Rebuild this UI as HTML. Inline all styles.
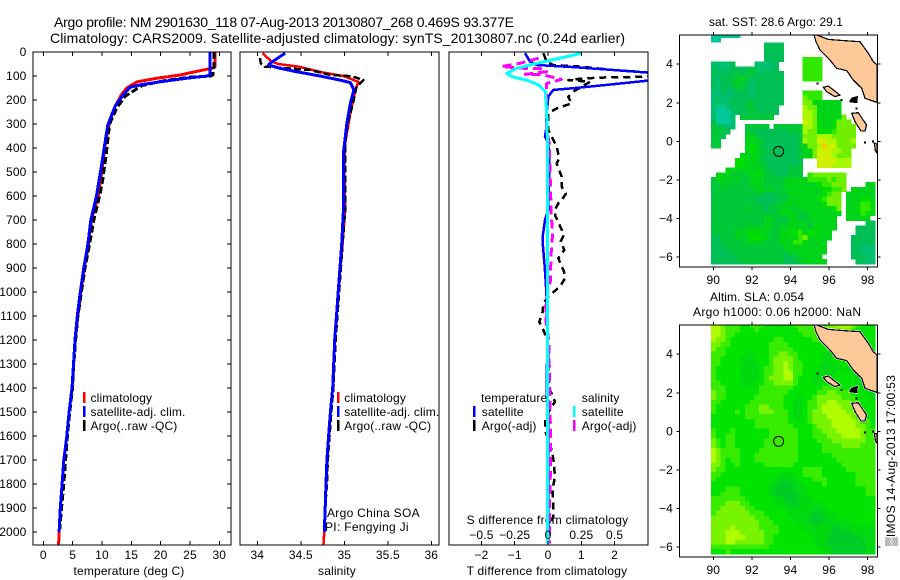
<!DOCTYPE html>
<html>
<head>
<meta charset="utf-8">
<title>Argo profile 2901630</title>
<style>
html,body{margin:0;padding:0;background:#fff;}
svg{display:block;}
text{font-family:"Liberation Sans",sans-serif;font-size:12px;fill:#000;letter-spacing:0.15px;}
</style>
</head>
<body>
<svg id="chart" xmlns="http://www.w3.org/2000/svg" width="900" height="580" viewBox="0 0 900 580">
<defs>
<clipPath id="clip-temp"><rect x="33" y="52" width="198" height="493"/></clipPath>
<clipPath id="clip-sal"><rect x="240" y="52" width="199" height="493"/></clipPath>
<clipPath id="clip-diff"><rect x="449" y="52" width="199" height="493"/></clipPath>
<clipPath id="clip-map1"><rect x="679.5" y="35" width="198" height="232"/></clipPath>
<clipPath id="clip-map2"><rect x="679.5" y="325" width="198" height="232"/></clipPath>
</defs>
<text x="54" y="27" style="font-size:14px;letter-spacing:0" textLength="460">Argo profile: NM 2901630_118 07-Aug-2013 20130807_268 0.469S 93.377E</text>
<text x="50" y="43" style="font-size:14px;letter-spacing:0" textLength="575">Climatology: CARS2009. Satellite-adjusted climatology: synTS_20130807.nc (0.24d earlier)</text>
<text x="129" y="575" text-anchor="middle">temperature (deg C)</text>
<text x="337" y="575" text-anchor="middle">salinity</text>
<text x="547" y="575" style="letter-spacing:0.25px" text-anchor="middle">T difference from climatology</text>
<text x="547.5" y="524" style="letter-spacing:0.25px" text-anchor="middle">S difference from climatology</text>
<text x="776" y="26" style="letter-spacing:0.05px" text-anchor="middle">sat. SST: 28.6 Argo: 29.1</text>
<text x="710" y="301" style="letter-spacing:0" textLength="94">Altim. SLA: 0.054</text>
<text x="693" y="316" style="letter-spacing:0" textLength="168">Argo h1000: 0.06 h2000: NaN</text>
<text transform="translate(895,546) rotate(-90)" style="letter-spacing:0" textLength="171">▒IMOS 14-Aug-2013 17:00:53</text>
<text x="327" y="517" style="letter-spacing:0.3px">Argo China SOA</text>
<text x="325" y="531" style="letter-spacing:0.3px">PI: Fengying Ji</text>
</svg>
<script>
// ---------- profile data ----------
const tempClimDepth = [0,60,68,78,96,109,124,150,179,228,304,380,492,608,700,800,900,1000,1100,1200,1300,1400,1500,1600,1700,1800,1900,2000,2054];
const tempClimValues = [29.3,29.3,28.7,26.7,23.3,19.4,16,14.2,13.3,12.2,11.2,10.6,10,9.3,8.2,7.7,7,6.4,5.9,5.4,5.15,4.9,4.4,4,3.5,3.2,2.9,2.7,2.6];
const tempSatDepth = [0,95,100,109,124,137,147,179,228,304,380,492,608,700,800,900,1000,1100,1200,1300,1400,1500,1600,1700,1800,1900,2000];
const tempSatValues = [28.4,28.4,28,24.5,19.9,16.5,14.8,13.6,12.2,11,10.5,9.8,9,8.1,7.6,6.9,6.3,5.8,5.4,5.15,4.9,4.4,4,3.5,3.2,2.9,2.7];
const tempArgoDepth = [0,60,95,100,105,120,140,185,235,300,430,535,590,700,800,900,1000,1100,1200,1300,1400,1500,1600,1700,1800,1900,1990];
const tempArgoValues = [29.1,29.1,28.9,28.5,25,20.5,16.8,13.9,12.5,11.3,10.7,10.1,9.7,8.6,7.9,7.1,6.5,5.9,5.5,5.2,5.0,4.5,4.1,3.8,3.5,3.1,2.8];

const salClimDepth = [5,40,50,61,86,100,124,171,254,379,492,658,800,1000,1200,1400,1500,1600,1700,1800,1900,2000,2054];
const salClimValues = [34.06,34.165,34.24,34.47,34.76,34.99,35.16,35.12,35.07,35.01,35,35.01,34.98,34.93,34.89,34.867,34.84,34.82,34.8,34.79,34.78,34.77,34.76];
const salSatDepth = [5,47,54,68,82,100,117,128,158,213,296,421,658,800,1000,1200,1400,1500,1600,1700,1800,1900,2000];
const salSatValues = [34.32,34.146,34.13,34.26,34.45,34.72,34.95,35.07,35.11,35.07,35.03,34.99,34.99,34.97,34.93,34.89,34.867,34.84,34.82,34.8,34.79,34.78,34.77];
const salArgoDepth = [25,47,62,62,68,75,96,100,105,117,144,213,296,379,658,800,1000,1200,1400,1500,1600,1700,1800,1900,1990];
const salArgoValues = [34.03,34.04,34.09,34.13,34.34,34.61,34.84,35.04,35.12,35.22,35.14,35.1,35.04,35.01,35.01,34.98,34.94,34.9,34.875,34.85,34.83,34.81,34.8,34.78,34.77];

const diffTSatDepth = [5,40,54,63,75,86,100,119,137,151,158,186,255,325,353,381,464,658,700,770,811,894,978,1033,1172,1430,1450,2000];
const diffTSatValues = [-0.69,-0.54,-0.34,0.76,1.96,3.0,3.6,3.01,1.76,0.76,0.16,0.01,-0.04,-0.06,-0.09,0.01,0.04,0.01,-0.09,-0.16,-0.15,-0.1,-0.06,-0.04,-0.02,-0.04,0,0];
const diffTArgoDepth = [5,40,54,61,75,85,95,103,106,110,117,124,165,186,214,235,255,325,353,394,443,464,520,562,589,617,631,658,679,741,762,790,825,859,915,943,978,995,1020,1047,1082,1124,1158,1193,1228,1367,1408,1457,1485,1526,1589,1631,1693,1769,1818,1894,1936,1978,2047];
const diffTArgoValues = [-0.14,-0.04,0.16,0.96,1.96,3.01,3.4,3.01,1.76,1.06,0.61,1.26,0.76,0.61,0.71,0.26,0.01,0.01,0.11,0.26,0.34,0.26,0.41,0.41,0.54,0.41,0.31,0.21,0.21,0.41,0.48,0.38,0.49,0.31,0.48,0.51,0.36,0.21,0.01,-0.14,-0.16,-0.26,-0.14,-0.04,0.01,0.01,0.06,0.21,0.08,-0.09,-0.06,0.06,0.16,0.21,0.14,0.16,0.16,0.01,0.01];
const diffSSatDepth = [5,26,47,68,89,103,117,137,165,255,353,464,1000,1400,2047];
const diffSSatValues = [0.25,0.09,-0.085,-0.235,-0.31,-0.27,-0.16,-0.07,-0.02,-0.01,-0.005,-0.002,-0.005,-0.002,-0.002];
const diffSArgoDepth = [26,47,61,68,68,82,93,95,114,131,186,325,381,603,686,756,825,894,950,990,1060,1120,1200,1450,1700,1920,2047];
const diffSArgoValues = [-0.07,-0.21,-0.35,-0.185,-0.06,-0.01,-0.17,-0.035,0.1,-0.01,-0.01,-0.01,0.01,0.02,0.025,0.035,0.025,0.02,0.02,0,-0.015,-0.015,0.005,0.015,0.02,0.01,0.01];

// ---------- tick labels ----------
const depthTicks = [0,100,200,300,400,500,600,700,800,900,1000,1100,1200,1300,1400,1500,1600,1700,1800,1900,2000];
const tempTicks = [0,5,10,15,20,25,30];
const salTicks = [34,34.5,35,35.5,36];
const diffTTicks = [-2,-1,0,1,2];
const diffSTicks = [-0.5,-0.25,0,0.25,0.5];
const lonTicks = [90,92,94,96,98];
const latTicks = [4,2,0,-2,-4,-6];

// ---------- map data (0 = no data, higher = warmer colour class) ----------
const mapLon0 = 89.88, mapLat0 = 5.636, cellDeg = 0.25;
const argoLon = [93.385];
const argoLat = [-0.52];
const sstGrid = [
[1,1,1,1,1,1,0,0,0,0,0,0,0,0,0,0,0,0,0,0,0,0,0,0,0,0,0,0,0,0,0,0,0,0],
[1,1,0,0,0,0,0,0,0,0,0,0,0,0,0,0,0,0,0,0,0,0,0,0,0,0,0,0,0,0,0,0,0,0],
[0,0,0,0,0,0,0,0,0,0,0,3,3,3,3,0,0,0,0,0,0,0,0,0,0,0,0,0,0,0,0,0,0,0],
[0,0,0,0,0,0,0,0,0,0,0,3,3,3,3,0,0,0,0,0,0,0,0,0,0,0,0,0,0,0,0,0,0,0],
[0,0,0,0,0,0,0,0,0,0,0,3,3,3,3,0,0,0,0,0,0,0,0,0,0,0,0,0,0,0,0,0,0,0],
[0,0,0,0,0,0,0,0,0,0,0,3,3,3,3,0,0,0,0,7,7,7,7,0,0,0,0,0,0,0,0,0,0,0],
[2,2,2,2,3,0,0,0,0,2,2,2,2,3,0,0,0,0,0,7,7,7,7,0,0,0,0,0,0,0,0,0,0,0],
[3,2,2,2,3,3,3,3,4,3,2,2,2,3,0,0,0,0,0,7,7,7,7,0,0,0,0,0,0,0,0,0,0,0],
[3,3,3,3,3,4,3,4,4,3,3,3,3,3,3,0,0,0,0,7,7,7,7,0,0,0,0,0,0,0,0,0,0,0],
[3,2,3,3,4,4,5,4,3,3,3,3,3,3,3,0,0,0,0,7,7,7,7,0,0,0,0,0,0,0,0,0,0,0],
[3,2,3,3,4,5,4,3,2,3,3,3,3,3,3,0,0,0,0,0,0,0,0,0,0,0,0,0,0,0,0,0,0,0],
[3,2,3,3,3,4,4,3,2,3,3,3,3,3,3,0,0,0,0,0,0,0,0,0,0,0,0,0,0,0,0,0,0,0],
[2,2,3,2,2,3,3,3,2,3,3,3,3,3,3,0,0,0,0,7,7,7,7,0,0,0,0,0,0,0,0,0,0,0],
[2,2,2,2,3,3,3,3,3,3,3,3,3,3,3,0,0,0,0,8,7,7,7,0,0,0,0,0,0,0,0,0,0,0],
[2,3,2,2,3,3,3,4,4,3,3,3,3,3,3,0,0,0,0,8,8,5,5,5,5,5,5,0,0,0,0,0,0,0],
[2,1,1,2,3,3,3,4,4,3,3,3,3,3,0,0,0,0,0,9,8,8,5,5,5,5,5,0,0,0,0,0,0,0],
[2,1,1,1,2,3,3,3,4,4,3,3,3,3,0,0,0,0,0,9,9,8,5,5,5,5,5,0,0,0,0,0,0,0],
[2,1,1,1,2,0,4,4,4,4,4,4,4,0,0,0,0,0,0,9,9,8,5,5,5,5,5,8,0,0,0,0,0,0],
[3,1,1,1,2,0,0,0,0,0,0,0,0,0,0,0,0,0,0,10,9,8,6,5,5,6,8,8,8,0,0,0,0,0],
[4,3,3,2,2,0,0,4,4,4,4,4,0,4,4,4,4,4,4,9,9,8,6,5,5,6,8,8,8,8,0,0,0,0],
[4,4,4,3,0,0,0,4,4,3,3,3,3,3,3,3,4,4,4,9,8,8,6,6,6,7,8,8,8,8,0,0,0,0],
[4,4,3,0,0,0,0,5,5,4,3,3,3,3,3,3,3,3,4,8,8,8,9,9,9,8,8,8,8,8,0,0,0,0],
[4,4,0,0,0,0,0,5,5,5,4,3,3,3,3,3,3,3,4,9,8,8,10,10,9,9,8,8,8,9,0,0,0,0],
[4,4,0,0,0,0,0,5,6,5,4,3,3,3,3,3,3,3,4,5,8,8,9,11,10,10,8,8,8,8,0,0,0,0],
[0,0,0,0,0,0,0,5,6,5,4,4,3,3,3,3,3,3,4,5,5,8,10,10,10,9,9,8,8,0,0,0,0,0],
[0,0,0,0,0,0,5,5,5,5,4,3,3,3,3,3,3,3,4,5,5,8,10,10,10,9,8,8,8,0,0,0,0,0],
[0,0,0,0,0,6,6,5,5,5,4,3,3,3,3,3,3,3,3,0,0,0,10,10,10,10,9,9,9,0,0,0,0,0],
[0,0,0,0,0,6,6,5,5,5,4,4,3,3,3,3,3,3,4,0,0,0,10,10,10,9,9,9,9,0,0,0,0,0],
[0,0,0,5,5,5,5,5,5,5,5,4,3,3,3,3,4,4,4,0,0,0,0,0,0,0,0,0,0,0,0,0,0,0],
[0,5,5,5,4,4,4,5,5,6,5,4,4,3,3,3,4,4,4,0,7,8,8,8,8,8,8,8,0,0,0,0,0,0],
[4,5,5,5,5,5,4,4,5,5,5,4,4,4,4,5,5,5,5,5,7,7,7,7,8,7,8,8,0,0,0,0,0,0],
[4,4,5,4,4,4,4,4,5,5,5,4,4,4,4,5,5,5,5,5,5,5,6,7,7,8,8,8,0,0,0,0,5,5],
[4,4,4,4,4,4,4,4,4,5,5,5,5,4,4,5,5,5,5,5,5,5,5,6,6,7,7,8,0,5,5,5,5,5],
[4,4,4,4,4,4,4,4,4,4,4,3,3,4,4,4,5,5,5,5,5,5,5,6,7,8,8,0,5,5,5,5,5,5],
[4,4,4,4,4,4,4,4,4,3,3,3,3,3,4,4,5,5,5,5,5,5,6,7,8,8,8,0,5,5,5,6,6,5],
[4,4,4,4,4,4,4,4,4,4,3,3,3,4,4,5,5,5,5,5,5,5,5,6,8,8,8,0,5,5,5,7,7,6],
[4,4,4,4,4,4,4,5,4,4,4,3,4,4,5,5,5,4,5,5,5,5,5,5,5,6,8,0,5,5,6,7,7,6],
[4,4,4,4,4,4,4,4,4,4,4,4,4,4,5,5,5,5,4,4,5,5,5,5,5,5,5,0,5,5,5,7,6,5],
[4,4,4,4,4,4,4,4,4,4,4,5,5,4,4,4,5,5,4,4,5,5,5,5,5,5,0,0,5,5,5,5,5,0],
[4,4,4,4,4,4,4,4,4,4,4,5,5,4,4,4,5,5,5,5,4,5,5,5,5,5,0,0,0,0,0,0,3,3],
[4,4,4,4,4,4,4,5,5,5,5,5,5,4,5,5,5,5,5,5,4,5,6,5,5,5,0,0,0,0,3,3,3,3],
[4,4,4,4,4,5,5,5,6,5,5,5,4,4,5,5,6,6,7,5,6,6,5,5,5,0,0,0,0,0,3,3,3,3],
[3,3,4,4,4,5,4,5,6,6,6,5,4,4,5,5,5,5,7,8,5,5,5,5,5,0,0,0,0,3,3,3,3,3],
[3,3,4,4,4,4,4,5,5,5,5,4,4,4,5,5,5,7,7,5,5,5,5,5,0,0,0,0,0,3,3,3,3,3],
[3,3,3,4,4,4,4,4,4,4,4,4,4,4,4,5,5,5,5,5,5,5,5,5,0,0,0,0,0,3,3,2,2,2],
[3,3,3,3,4,4,4,4,4,4,4,4,4,4,4,4,5,5,5,5,5,5,5,5,0,0,0,0,0,3,3,2,2,2],
[3,3,3,3,3,4,4,4,4,4,4,4,4,4,4,3,3,4,5,5,5,5,5,0,0,0,0,0,0,3,3,3,2,2],
[3,3,3,3,3,3,4,4,4,4,4,4,4,4,4,3,3,3,4,5,5,5,5,5,0,0,0,0,0,0,3,3,2,2]
];
const slaGrid = [
[9,9,8,7,7,7,6,6,7,7,7,6,6,6,6,6,6,7,7,7,7,8,8,7,8,8,9,9,9,8,7,6,6,6],
[9,9,8,7,7,7,6,6,6,7,6,6,6,6,6,6,6,6,7,7,7,7,7,7,8,8,8,8,8,7,6,6,6,6],
[9,9,8,7,7,6,6,6,6,6,6,6,6,6,6,6,6,6,6,7,7,7,7,7,7,7,7,7,6,6,6,6,6,6],
[9,8,8,7,6,6,6,6,6,6,6,6,6,7,7,6,6,6,6,6,6,7,7,7,7,6,6,6,6,6,6,6,6,6],
[8,8,7,7,6,6,6,6,6,6,6,6,7,7,7,7,6,6,6,6,6,6,6,6,6,6,6,6,6,6,6,6,6,6],
[8,7,7,6,6,6,6,5,6,6,6,6,7,7,7,7,7,6,6,6,6,6,6,6,6,6,6,6,6,6,6,6,6,6],
[7,7,7,6,6,6,6,5,5,6,6,6,7,7,8,8,7,7,6,6,6,6,6,5,5,6,6,6,6,6,6,6,5,5],
[7,7,6,6,6,6,5,5,5,6,6,6,7,8,8,8,8,7,6,6,6,6,6,5,5,6,6,6,6,6,6,6,5,5],
[7,7,6,6,6,6,5,5,5,5,6,6,7,8,8,9,8,7,7,6,6,6,6,5,5,5,6,6,6,5,5,5,5,5],
[7,6,6,6,6,6,5,5,5,5,6,7,7,8,8,9,8,7,7,6,6,6,5,5,5,5,5,6,5,5,5,5,5,5],
[7,6,6,6,6,6,5,5,5,5,6,7,7,8,8,9,9,7,7,6,6,6,5,5,5,5,6,6,6,6,5,5,5,5],
[7,6,6,6,6,6,5,5,5,5,6,7,8,8,8,9,9,7,6,6,6,5,5,5,5,6,6,6,6,6,5,5,5,5],
[7,7,6,6,6,6,5,5,5,6,6,7,7,8,8,8,8,7,6,6,6,5,5,6,6,6,6,6,6,6,5,5,5,5],
[7,7,7,6,6,6,6,5,6,6,7,7,7,7,7,7,7,6,6,6,6,6,6,7,7,7,7,6,6,6,6,5,5,5],
[8,7,7,6,6,6,6,6,6,6,7,7,7,7,7,7,6,6,6,6,6,6,7,7,8,8,7,7,7,6,6,6,5,5],
[8,7,7,6,6,6,6,6,6,7,7,7,7,7,7,6,6,6,5,6,6,7,8,8,8,8,8,7,7,7,6,6,6,5],
[7,7,6,6,6,6,6,6,7,7,7,7,7,7,7,6,6,5,5,6,7,7,8,8,9,9,8,8,8,7,7,6,6,6],
[7,6,6,6,6,6,6,7,7,7,8,8,7,7,7,6,6,5,5,6,7,7,8,9,9,9,9,8,8,7,7,6,6,6],
[7,6,6,6,6,7,6,7,7,7,8,8,8,7,7,7,6,5,5,6,7,8,8,9,9,9,9,9,8,8,7,7,6,6],
[6,6,6,6,6,6,6,7,7,7,7,7,7,7,7,7,6,5,5,6,7,8,8,8,9,9,9,9,9,8,7,7,6,6],
[6,6,6,6,6,6,6,6,6,7,7,7,7,7,7,7,6,6,5,6,7,8,8,8,8,9,9,9,9,9,8,7,7,6],
[6,6,6,6,6,6,6,6,6,7,7,7,7,7,7,7,7,6,6,6,6,7,8,8,8,9,9,9,9,9,8,8,7,6],
[7,6,6,6,7,6,6,6,6,6,6,6,7,7,7,7,7,7,6,6,6,7,7,8,8,8,9,9,9,9,9,8,7,7],
[7,6,6,7,7,6,6,6,6,6,6,6,7,7,7,7,7,7,6,6,6,7,7,7,8,8,8,9,9,9,9,8,7,7],
[8,7,6,7,7,6,6,6,6,6,6,7,7,7,7,7,7,7,6,6,6,6,7,7,7,8,8,8,8,8,8,8,7,7],
[8,7,6,7,7,6,6,6,6,6,6,7,7,7,7,7,7,7,6,6,6,6,6,7,7,7,7,8,8,8,8,7,7,7],
[9,8,7,7,7,7,6,6,6,6,7,7,7,7,7,7,7,7,6,6,6,6,6,7,7,7,7,7,7,7,7,7,7,7],
[9,8,7,7,7,7,6,6,6,7,7,7,7,7,7,7,7,7,6,6,6,6,6,6,6,7,7,7,7,7,7,7,7,7],
[9,8,7,6,7,7,6,6,6,7,7,7,7,7,7,7,7,7,6,6,6,6,6,6,6,6,7,7,7,7,7,7,7,7],
[8,8,7,6,6,7,6,6,6,6,6,7,7,7,7,7,7,6,6,6,6,6,6,6,6,6,6,7,7,7,7,7,7,7],
[8,7,7,6,6,6,6,6,6,6,6,6,6,6,6,6,6,6,6,7,7,7,7,6,6,6,6,6,7,7,7,7,7,7],
[7,7,6,6,6,6,6,6,6,6,6,6,6,6,5,5,5,6,6,7,7,7,7,6,6,6,6,6,6,6,7,7,7,7],
[7,6,6,6,6,6,6,6,6,6,6,6,6,5,5,5,5,5,6,6,6,7,7,7,6,6,6,6,6,6,7,7,7,7],
[6,6,6,6,6,6,6,6,6,6,6,6,5,5,4,4,4,5,5,6,6,6,6,7,6,6,6,6,6,6,7,7,7,7],
[6,6,6,7,7,7,6,6,6,6,6,6,5,4,4,4,4,5,5,5,6,6,6,6,6,6,6,6,6,6,6,6,7,7],
[6,6,7,7,7,7,6,6,6,6,6,6,5,4,4,4,4,4,5,5,6,6,6,6,6,6,6,6,6,6,6,6,7,7],
[7,7,7,7,7,7,7,6,6,6,6,6,6,5,5,4,4,4,5,5,5,6,6,6,6,6,6,6,6,6,6,6,6,6],
[7,7,7,8,8,8,7,7,6,6,6,6,6,5,5,5,4,4,5,5,5,5,5,6,6,6,6,6,6,6,6,6,6,6],
[7,7,8,8,8,8,8,7,7,6,6,6,6,6,6,5,5,5,5,5,5,5,5,5,6,6,6,6,6,6,6,6,6,6],
[7,8,8,8,8,8,8,8,7,7,7,6,6,6,6,6,5,5,5,5,5,4,4,5,5,5,6,6,6,6,6,6,6,6],
[8,8,8,8,8,8,8,8,8,7,7,7,6,6,6,6,6,5,5,5,4,4,4,4,5,5,6,6,6,6,6,6,6,6],
[8,8,8,8,8,8,8,8,8,8,7,7,7,6,6,6,6,6,5,5,5,4,4,5,5,5,5,5,5,6,6,6,6,6],
[8,8,8,8,9,8,8,8,8,8,7,7,7,7,6,6,6,6,6,5,5,5,5,5,5,4,4,5,5,5,5,5,5,5],
[8,8,8,9,9,9,8,8,8,8,8,7,7,7,6,6,6,6,6,6,5,5,5,5,5,4,4,4,4,5,5,5,5,5],
[8,8,8,9,9,9,9,8,8,8,8,7,7,6,6,6,6,6,6,6,6,5,5,5,4,4,4,4,4,4,4,5,5,5],
[8,8,8,9,9,8,8,8,8,8,8,7,7,6,6,6,6,6,6,6,6,5,5,5,4,4,4,4,4,4,4,4,5,5],
[7,7,7,7,7,7,7,7,7,7,7,7,6,6,6,6,6,6,6,6,6,6,5,5,5,4,4,4,4,4,4,4,5,5],
[6,6,6,7,6,6,6,6,6,6,6,6,6,6,6,6,6,6,6,6,6,6,6,5,5,4,4,4,4,4,4,4,5,5]
];
const sumatraLon = [95.22,95.32,95.53,96.04,96.39,96.91,97.25,97.69,97.86,98.5,98.5,98.29,98.03,97.6,96.82,95.96,95.35];
const sumatraLat = [5.52,5.17,4.74,4.22,3.79,3.67,3.18,2.75,2.23,2.01,3.96,4.13,4.57,5.17,5.22,5.29,5.52];
const simeulueLon = [95.7,95.96,96.56,96.3,95.87];
const simeulueLat = [2.8,2.87,2.4,2.32,2.58];
const niasLon = [97.17,97.51,97.94,97.86,97.65,97.34];
const niasLat = [1.45,1.49,0.85,0.54,0.54,1.02];
const banyakLon = [97.17,97.46,97.43,97.08];
const banyakLat = [2.23,2.32,2.01,2.06];
const siberutLon = [98.34,98.5,98.5,98.4];
const siberutLat = [-0.1,-0.15,-0.62,-0.5];
const isletLon = [95.39,97.43,96.65,97.86,98.28];
const isletLat = [3.01,1.71,2.15,-0.07,0.0];

// ---------- axis functions ----------
const svg = document.getElementById('chart');
const NS = 'http://www.w3.org/2000/svg';
const yDepth = d => 52 + 0.24 * d;
const xTemp = t => 43.3 + 5.867 * t;
const xSal = s => 257.3 + 87 * (s - 34);
const xDiffT = t => 548 + 33.3 * t;
const xDiffS = s => 548 + 133.2 * s;
const xLon = lon => 713.3 + 19.3 * (lon - 90);
const yLatMap1 = lat => 141.3 - 19.27 * lat;
const yLatMap2 = lat => 431.3 - 19.27 * lat;
const sstColors = ['#ffffff','#00c898','#00c070','#00c055','#00c838','#00d418','#00e000','#30e800','#70f000','#a8f800','#d0f000','#f0d000'];
const slaColors = ['#ffffff','#00c070','#00c050','#00c838','#00cc28','#00d810','#00e400','#38ec00','#78f400','#b0fc00','#d0f000','#f0d000'];

function mk(tag, name, attrs, parent) {
  const node = document.createElementNS(NS, tag);
  
  
  for (const k in attrs) node.setAttribute(k, attrs[k]);
  parent.appendChild(node);
  return node;
}
function label(name, str, x, y, anchor, parent) {
  const t = mk('text', name, {x: x, y: y, 'text-anchor': anchor}, parent);
  t.textContent = str;
  return t;
}
function tick(name, x1, y1, x2, y2, parent) {
  mk('line', name, {x1: x1, y1: y1, x2: x2, y2: y2, stroke: '#000', 'stroke-width': 1, 'shape-rendering': 'crispEdges'}, parent);
}
function frame(name, x, y, w, h) {
  mk('rect', name, {x: x, y: y, width: w, height: h, fill: 'none', stroke: '#000', 'stroke-width': 1.3, 'shape-rendering': 'crispEdges'}, svg);
}
function profile(name, xs, ds, xScale, clip, color, width, dash) {
  const pts = xs.map((v, i) => xScale(v).toFixed(1) + ',' + yDepth(ds[i]).toFixed(1)).join(' ');
  const attrs = {points: pts, fill: 'none', stroke: color, 'stroke-width': width, 'clip-path': 'url(#' + clip + ')', 'shape-rendering': 'crispEdges', 'stroke-linejoin': 'round'};
  if (dash) attrs['stroke-dasharray'] = dash;
  mk('polyline', name, attrs, svg);
}
function legendKey(name, x, yc, color) {
  mk('line', name, {x1: x, y1: yc - 6, x2: x, y2: yc + 5, stroke: color, 'stroke-width': 2.5, 'shape-rendering': 'crispEdges'}, svg);
}

// ---------- temperature panel ----------
profile('temperature-climatology-line', tempClimValues, tempClimDepth, xTemp, 'clip-temp', '#ff0000', 3, null);
profile('temperature-argo-line', tempArgoValues, tempArgoDepth, xTemp, 'clip-temp', '#000000', 3, '7 3');
profile('temperature-satellite-line', tempSatValues, tempSatDepth, xTemp, 'clip-temp', '#0000ff', 3, null);
frame('temperature-panel-frame', 33, 52, 198, 493);
depthTicks.forEach(d => {
  tick('depth-tick-left', 33, yDepth(d), 37, yDepth(d), svg);
  tick('depth-tick-right', 227, yDepth(d), 231, yDepth(d), svg);
  label('depth-tick-label', String(d), 26.5, yDepth(d) + 4, 'end', svg);
});
tempTicks.forEach(t => {
  tick('temperature-tick-bottom', xTemp(t), 541, xTemp(t), 545, svg);
  tick('temperature-tick-top', xTemp(t), 52, xTemp(t), 56, svg);
  label('temperature-tick-label', String(t), xTemp(t), 559, 'middle', svg);
});
legendKey('legend-key-climatology', 84, 398, '#ff0000');
label('legend-label-climatology', 'climatology', 90.5, 402, 'start', svg);
legendKey('legend-key-satellite', 84, 412, '#0000ff');
label('legend-label-satellite', 'satellite-adj. clim.', 90.5, 416, 'start', svg);
legendKey('legend-key-argo', 84, 426, '#000000');
label('legend-label-argo', 'Argo(..raw -QC)', 90.5, 430, 'start', svg);

// ---------- salinity panel ----------
profile('salinity-climatology-line', salClimValues, salClimDepth, xSal, 'clip-sal', '#ff0000', 2.5, null);
profile('salinity-argo-line', salArgoValues, salArgoDepth, xSal, 'clip-sal', '#000000', 2.5, '7 3');
profile('salinity-satellite-line', salSatValues, salSatDepth, xSal, 'clip-sal', '#0000ff', 3, null);
frame('salinity-panel-frame', 240, 52, 199, 493);
salTicks.forEach(s => {
  tick('salinity-tick-bottom', xSal(s), 541, xSal(s), 545, svg);
  tick('salinity-tick-top', xSal(s), 52, xSal(s), 56, svg);
  label('salinity-tick-label', String(s), xSal(s), 559, 'middle', svg);
});
legendKey('legend-key-climatology', 338, 398, '#ff0000');
label('legend-label-climatology', 'climatology', 344.3, 402, 'start', svg);
legendKey('legend-key-satellite', 338, 412, '#0000ff');
label('legend-label-satellite', 'satellite-adj. clim.', 344.3, 416, 'start', svg);
legendKey('legend-key-argo', 338, 426, '#000000');
label('legend-label-argo', 'Argo(..raw -QC)', 344.3, 430, 'start', svg);

// ---------- difference panel ----------
profile('t-difference-argo-line', diffTArgoValues, diffTArgoDepth, xDiffT, 'clip-diff', '#000000', 2.5, '7 5');
profile('t-difference-satellite-line', diffTSatValues, diffTSatDepth, xDiffT, 'clip-diff', '#0000ff', 2.5, null);
profile('s-difference-argo-line', diffSArgoValues, diffSArgoDepth, xDiffS, 'clip-diff', '#ff00ff', 3, '9 5');
profile('s-difference-satellite-line', diffSSatValues, diffSSatDepth, xDiffS, 'clip-diff', '#00ffff', 3, null);
frame('difference-panel-frame', 449, 52, 199, 493);
diffTTicks.forEach(t => {
  tick('t-difference-tick-bottom', xDiffT(t), 541, xDiffT(t), 545, svg);
  tick('t-difference-tick-top', xDiffT(t), 52, xDiffT(t), 56, svg);
  label('t-difference-tick-label', String(t).replace('-', '−'), xDiffT(t), 559, 'middle', svg);
});
diffSTicks.forEach(s => {
  label('s-difference-tick-label', String(s).replace('-', '−'), xDiffS(s), 539, 'middle', svg);
});
label('legend-heading-temperature', 'temperature', 481, 402, 'start', svg);
label('legend-heading-salinity', 'salinity', 581.7, 402, 'start', svg);
legendKey('legend-key-t-satellite', 474, 412, '#0000ff');
label('legend-label-t-satellite', 'satellite', 481.7, 416, 'start', svg);
legendKey('legend-key-t-argo', 474, 426, '#000000');
label('legend-label-t-argo', 'Argo(-adj)', 481.7, 430, 'start', svg);
legendKey('legend-key-s-satellite', 574, 412, '#00ffff');
label('legend-label-s-satellite', 'satellite', 581.7, 416, 'start', svg);
legendKey('legend-key-s-argo', 574, 426, '#ff00ff');
label('legend-label-s-argo', 'Argo(-adj)', 581.7, 430, 'start', svg);

// ---------- maps ----------
function polyPts(lons, lats, yLat) {
  return lons.map((v, i) => xLon(v).toFixed(1) + ',' + yLat(lats[i]).toFixed(1)).join(' ');
}
function drawMap(prefix, grid, colors, yLat, clip, top, fringe) {
  const g = mk('g', prefix + '-map', {'clip-path': 'url(#' + clip + ')'}, svg);
  grid.forEach((row, r) => {
    row.forEach((v, c) => {
      if (!v) return;
      const x0 = xLon(mapLon0 + cellDeg * c), x1 = xLon(mapLon0 + cellDeg * (c + 1));
      const y0 = yLat(mapLat0 - cellDeg * r), y1 = yLat(mapLat0 - cellDeg * (r + 1));
      mk('rect', prefix + '-cell', {x: x0.toFixed(2), y: y0.toFixed(2), width: (x1 - x0 + 0.4).toFixed(2), height: (y1 - y0 + 0.4).toFixed(2), fill: colors[v] || '#00d020', 'shape-rendering': 'crispEdges'}, g);
    });
  });
  const land = [['sumatra', sumatraLon, sumatraLat, '#fdc998'], ['simeulue', simeulueLon, simeulueLat, '#fdc998'], ['nias', niasLon, niasLat, '#fdc998'], ['banyak-islands', banyakLon, banyakLat, '#000000'], ['siberut', siberutLon, siberutLat, '#fdc998']];
  if (fringe) {
    land.forEach(l => {
      mk('polygon', l[0] + '-coast-fringe', {points: polyPts(l[1], l[2], yLat), fill: 'none', stroke: '#ffffff', 'stroke-width': 2.2}, g);
    });
  }
  land.forEach(l => {
    mk('polygon', l[0] + '-land', {points: polyPts(l[1], l[2], yLat), fill: l[3], stroke: '#000', 'stroke-width': 1.2, 'shape-rendering': 'crispEdges'}, g);
  });
  isletLon.forEach((lon, i) => {
    mk('rect', prefix + '-islet', {x: xLon(lon) - 1, y: yLat(isletLat[i]) - 1, width: 2, height: 2, fill: '#000', 'shape-rendering': 'crispEdges'}, g);
  });
  mk('circle', prefix + '-argo-position-marker', {cx: xLon(argoLon[0]), cy: yLat(argoLat[0]), r: 5, fill: 'none', stroke: '#000', 'stroke-width': 1}, g);
  frame(prefix + '-map-frame', 679.5, top, 198, 232);
  lonTicks.forEach(lon => {
    tick(prefix + '-longitude-tick-top', xLon(lon), top - 3, xLon(lon), top, svg);
    tick(prefix + '-longitude-tick-bottom', xLon(lon), top + 232, xLon(lon), top + 235, svg);
    label(prefix + '-longitude-tick-label', String(lon), xLon(lon), top + 249, 'middle', svg);
  });
  latTicks.forEach(lat => {
    tick(prefix + '-latitude-tick-left', 676.5, yLat(lat), 679.5, yLat(lat), svg);
    tick(prefix + '-latitude-tick-right', 877.5, yLat(lat), 880.5, yLat(lat), svg);
    label(prefix + '-latitude-tick-label', String(lat).replace('-', '−'), 673, yLat(lat) + 4, 'end', svg);
  });
}
drawMap('sst', sstGrid, sstColors, yLatMap1, 'clip-map1', 35, false);
drawMap('sla', slaGrid, slaColors, yLatMap2, 'clip-map2', 325, true);
</script>
</body>
</html>
